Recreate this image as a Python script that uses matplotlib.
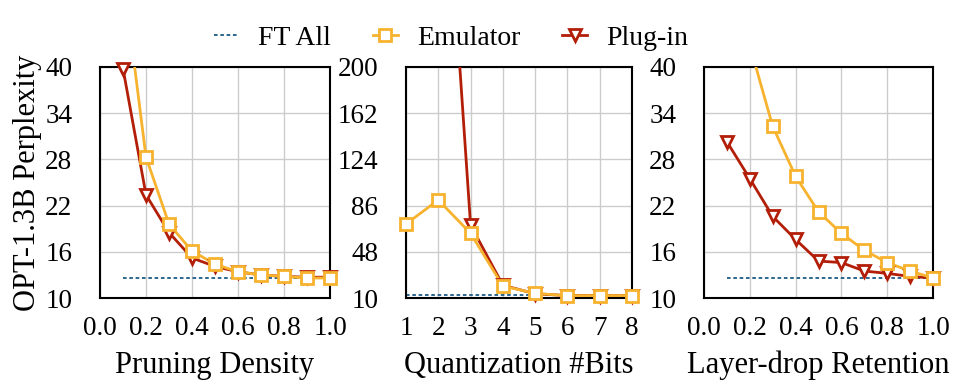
import numpy as np
import matplotlib
matplotlib.use("Agg")
import matplotlib.pyplot as plt
from matplotlib.lines import Line2D

plt.rcParams['font.family'] = ['Liberation Serif', 'DejaVu Serif']

# ---- data ----
prune_x = [0.1, 0.2, 0.3, 0.4, 0.5, 0.6, 0.7, 0.8, 0.9, 1.0]
prune_emu = [52.0, 28.3, 19.6, 16.1, 14.4, 13.4, 13.0, 12.8, 12.6, 12.6]
prune_plug = [39.8, 23.4, 18.5, 15.2, 14.1, 13.4, 13.0, 12.8, 12.7, 12.7]
prune_ft = 12.6

quant_x = [1, 2, 3, 4, 5, 6, 7, 8]
quant_emu = [70.9, 90.6, 63.2, 19.9, 13.8, 11.9, 12.0, 12.0]
quant_plug = [2000.0, 460.0, 70.0, 20.5, 13.5, 12.0, 12.0, 12.0]
quant_ft = 12.2

ldrop_x = [0.1, 0.2, 0.3, 0.4, 0.5, 0.6, 0.7, 0.8, 0.9, 1.0]
ldrop_emu = [60.0, 42.8, 32.3, 25.8, 21.2, 18.4, 16.2, 14.6, 13.5, 12.6]
ldrop_plug = [30.3, 25.5, 20.6, 17.6, 14.8, 14.6, 13.5, 13.2, 12.8, 12.6]
ldrop_ft = 12.6

xlabels = ["Pruning Density", "Quantization #Bits", "Layer-drop Retention"]
ylabel = "OPT-1.3B Perplexity"

C_EMU = "#F7B22E"
C_PLUG = "#B31E08"
C_FT = "#1B5C86"

fig = plt.figure(figsize=(9.58, 3.9), dpi=100)
W, H = 958, 390

def add_ax(l, r, t, b):
    return fig.add_axes([l / W, (H - b) / H, (r - l) / W, (b - t) / H])

axes = [add_ax(100, 330, 67, 298), add_ax(406, 632, 67, 298), add_ax(704, 933, 67, 298)]

cfgs = [
    (prune_x, prune_emu, prune_plug, prune_ft, (0.0, 1.0), (10, 40), [10, 16, 22, 28, 34, 40]),
    (quant_x, quant_emu, quant_plug, quant_ft, (1, 8), (10, 200), [10, 48, 86, 124, 162, 200]),
    (ldrop_x, ldrop_emu, ldrop_plug, ldrop_ft, (0.0, 1.0), (10, 40), [10, 16, 22, 28, 34, 40]),
]

LW = 2.0
MS = 8.5
MEW = 2.0

for i, (ax, (x, emu, plug, ft, xl, yl, yt)) in enumerate(zip(axes, cfgs)):
    x = np.array(x, dtype=float)
    ax.plot([x[0], x[-1]], [ft, ft], color=C_FT, lw=1.3, ls=(0, (2, 1.5)), zorder=2)
    for y, c, m in [(np.array(plug), C_PLUG, 'v'), (np.array(emu), C_EMU, 's')]:
        ax.plot(x, y, color=c, lw=LW, zorder=3)
        mask = (y <= yl[1]) & (y >= yl[0])
        ax.plot(x[mask], y[mask], ls='none', marker=m, ms=MS, mew=MEW,
                mfc='white', mec=c, zorder=4, clip_on=False)
    ax.set_xlim(*xl)
    ax.set_ylim(*yl)
    ax.set_yticks(yt)
    if i == 1:
        ax.set_xticks(quant_x)
    else:
        ax.set_xticks([0.0, 0.2, 0.4, 0.6, 0.8, 1.0])
        ax.set_xticklabels(["0.0", "0.2", "0.4", "0.6", "0.8", "1.0"])
    ax.grid(True, color="#cccccc", lw=1.0, zorder=0)
    ax.set_axisbelow(True)
    ax.tick_params(axis='both', length=0, labelsize=19.5)
    ax.tick_params(axis='y', pad=20)
    ax.tick_params(axis='x', pad=13)
    for s in ax.spines.values():
        s.set_linewidth(1.5)
        s.set_color('black')
    ax.set_xlabel(xlabels[i], fontsize=22, labelpad=7)

axes[0].set_ylabel(ylabel, fontsize=22, labelpad=2)

handles = [
    Line2D([], [], color=C_FT, lw=1.3, ls=(0, (2, 1.5))),
    Line2D([], [], color=C_EMU, lw=LW, marker='s', ms=MS, mew=MEW, mfc='white', mec=C_EMU),
    Line2D([], [], color=C_PLUG, lw=LW, marker='v', ms=MS, mew=MEW, mfc='white', mec=C_PLUG),
]
fig.legend(handles, ["FT All", "Emulator", "Plug-in"], loc='center',
           bbox_to_anchor=(451 / W, (H - 38) / H), ncol=3, frameon=False,
           fontsize=20, handlelength=0.9, columnspacing=1.5, handletextpad=0.7)

fig.savefig("out.png", dpi=100)
